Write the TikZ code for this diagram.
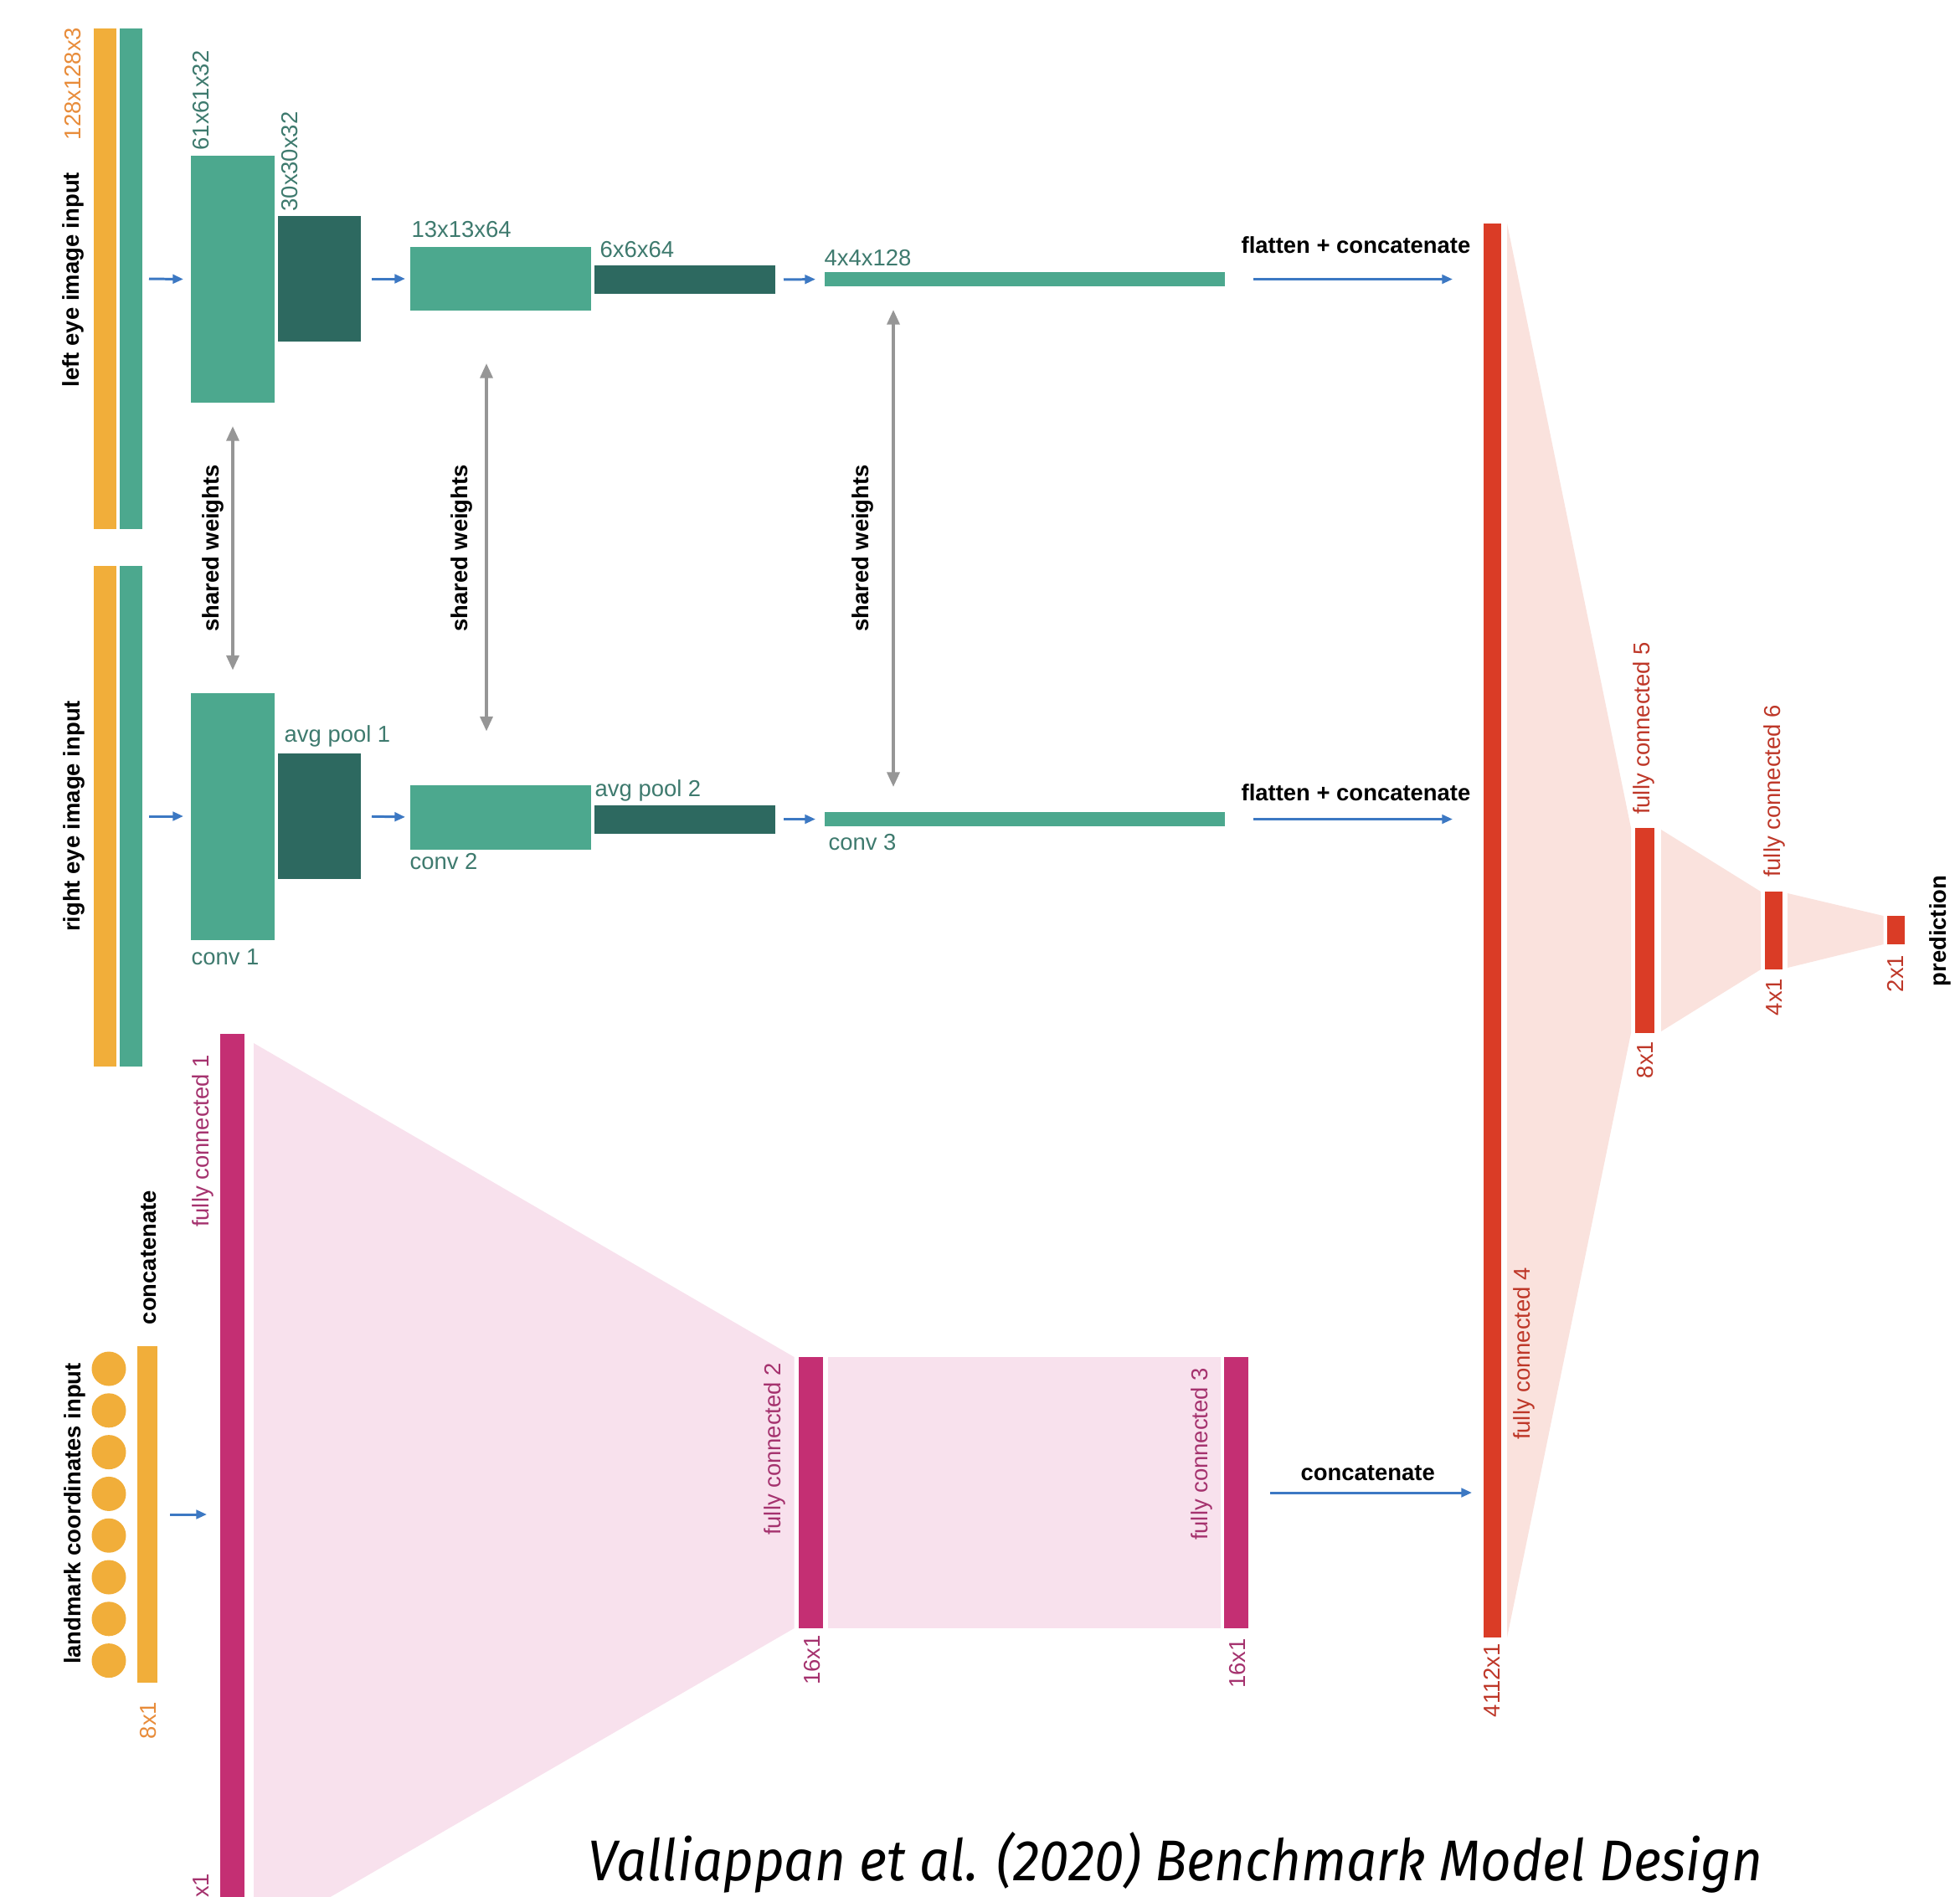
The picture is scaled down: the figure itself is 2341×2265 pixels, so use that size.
\documentclass[tikz,border=0pt]{standalone}
\usepackage{fontspec}
\usepackage{graphicx}
\setmainfont{Liberation Sans}
\newfontfamily\capfont{Fira Sans}
\usetikzlibrary{arrows.meta}

\newdimen\pxl
\pxl=0.01cm

\definecolor{inorange}{RGB}{241,174,58}
\definecolor{convteal}{RGB}{76,168,142}
\definecolor{poolteal}{RGB}{45,105,96}
\definecolor{tealtext}{RGB}{62,122,110}
\definecolor{orangetext}{RGB}{232,140,58}
\definecolor{fcmagenta}{RGB}{196,47,115}
\definecolor{fcpink}{RGB}{248,225,237}
\definecolor{magtext}{RGB}{165,50,110}
\definecolor{fcred}{RGB}{218,60,38}
\definecolor{fcsalmon}{RGB}{250,226,221}
\definecolor{redtext}{RGB}{190,55,40}
\definecolor{flowblue}{RGB}{60,120,195}
\definecolor{sharegrey}{RGB}{150,150,150}

\tikzset{
	lyr/.style={rectangle, inner sep=0pt, outer sep=0pt, draw=none},
	flow/.style={draw=flowblue, line width=0.85pt, -{Triangle[length=3.6pt,width=3pt]}},
	shared/.style={draw=sharegrey, line width=1.1pt, {Triangle[length=5pt,width=4.2pt]}-{Triangle[length=5pt,width=4.2pt]}},
	lbl/.style={inner sep=0pt, font=\fontsize{7.8}{9}\selectfont},
	vlbl/.style={lbl, rotate=90},
	blbl/.style={inner sep=0pt, font=\fontsize{7.8}{9}\selectfont\bfseries},
}

\begin{document}
\begin{tikzpicture}[x=0.01cm, y=-0.01cm]
	\useasboundingbox (0, 0) rectangle (2341, 2265);
	\clip (0, 0) rectangle (2341, 2265);
	\fill[white] (0, 0) rectangle (2341, 2265);

	% left eye branch
	\node[lyr, fill=inorange, minimum width=27\pxl, minimum height=598\pxl] (inLo) at (125.5, 333) {};
	\node[lyr, fill=convteal, minimum width=27\pxl, minimum height=598\pxl] (inLt) at (156.5, 333) {};
	\node[lyr, fill=convteal, minimum width=100\pxl, minimum height=295\pxl] (c1L) at (278, 333.5) {};
	\node[lyr, fill=poolteal, minimum width=99\pxl, minimum height=150\pxl] (p1L) at (381.5, 333) {};
	\node[lyr, fill=convteal, minimum width=216\pxl, minimum height=76\pxl] (c2L) at (598, 333) {};
	\node[lyr, fill=poolteal, minimum width=216\pxl, minimum height=34\pxl] (p2L) at (818, 334) {};
	\node[lyr, fill=convteal, minimum width=478\pxl, minimum height=17\pxl] (c3L) at (1224, 333.5) {};

	% right eye branch
	\node[lyr, fill=inorange, minimum width=27\pxl, minimum height=598\pxl] (inRo) at (125.5, 975) {};
	\node[lyr, fill=convteal, minimum width=27\pxl, minimum height=598\pxl] (inRt) at (156.5, 975) {};
	\node[lyr, fill=convteal, minimum width=100\pxl, minimum height=295\pxl] (c1R) at (278, 975) {};
	\node[lyr, fill=poolteal, minimum width=99\pxl, minimum height=150\pxl] (p1R) at (381.5, 975) {};
	\node[lyr, fill=convteal, minimum width=216\pxl, minimum height=77\pxl] (c2R) at (598, 976) {};
	\node[lyr, fill=poolteal, minimum width=216\pxl, minimum height=34\pxl] (p2R) at (818, 978.5) {};
	\node[lyr, fill=convteal, minimum width=478\pxl, minimum height=17\pxl] (c3R) at (1224, 978.5) {};

	% landmark branch
	\foreach \i in {1,...,8}
		\node[lyr, circle, fill=inorange, minimum size=41\pxl] (lm\i) at (130, {1635+(\i-1)*49.8}) {};
	\node[lyr, fill=inorange, minimum width=24\pxl, minimum height=402\pxl] (lmBar) at (176, 1809) {};
	\node[lyr, fill=fcmagenta, minimum width=29\pxl, minimum height=1095\pxl] (fc1) at (277.5, 1782.5) {};
	\node[lyr, fill=fcmagenta, minimum width=29\pxl, minimum height=324\pxl] (fc2) at (968, 1783) {};
	\node[lyr, fill=fcmagenta, minimum width=29\pxl, minimum height=324\pxl] (fc3) at (1476.5, 1783) {};

	% joint head
	\node[lyr, fill=fcred, minimum width=21\pxl, minimum height=1689\pxl] (fc4) at (1782.5, 1111.5) {};
	\node[lyr, fill=fcred, minimum width=23\pxl, minimum height=245\pxl] (fc5) at (1964.5, 1111.5) {};
	\node[lyr, fill=fcred, minimum width=21\pxl, minimum height=93\pxl] (fc6) at (2118.5, 1111.5) {};
	\node[lyr, fill=fcred, minimum width=21\pxl, minimum height=34\pxl] (pred) at (2264, 1111) {};

	% funnels
	\fill[fcpink] ([xshift=11\pxl, yshift=-11\pxl]fc1.north east) -- ([xshift=-5\pxl]fc2.north west)
		-- ([xshift=-5\pxl]fc2.south west) -- ([xshift=11\pxl, yshift=11\pxl]fc1.south east) -- cycle;
	\fill[fcpink] ([xshift=6\pxl]fc2.north east) rectangle ([xshift=-4\pxl]fc3.south west);
	\fill[fcsalmon] ([xshift=7\pxl]fc4.north east) -- ([xshift=-5\pxl]fc5.north west)
		-- ([xshift=-5\pxl]fc5.south west) -- ([xshift=7\pxl]fc4.south east) -- cycle;
	\fill[fcsalmon] ([xshift=8\pxl, yshift=-2\pxl]fc5.north east) -- ([xshift=-5\pxl]fc6.north west)
		-- ([xshift=-5\pxl]fc6.south west) -- ([xshift=8\pxl, yshift=2\pxl]fc5.south east) -- cycle;
	\fill[fcsalmon] ([xshift=6\pxl, yshift=-2\pxl]fc6.north east) -- ([xshift=-4\pxl]pred.north west)
		-- ([xshift=-4\pxl]pred.south west) -- ([xshift=6\pxl, yshift=2\pxl]fc6.south east) -- cycle;

	% data flow
	\draw[flow, shorten <=8\pxl, shorten >=9\pxl] (inLt.east) -- (c1L.west);
	\draw[flow, shorten <=13\pxl, shorten >=6\pxl] (p1L.east) -- (c2L.west);
	\draw[flow, shorten <=10\pxl, shorten >=11\pxl] (p2L.east) -- (c3L.west);
	\draw[flow, shorten <=34\pxl, shorten >=37\pxl] (c3L.east) -- (c3L.east -| fc4.west);
	\draw[flow, shorten <=8\pxl, shorten >=9\pxl] (inRt.east) -- (c1R.west);
	\draw[flow, shorten <=13\pxl, shorten >=6\pxl] (p1R.east) -- (c2R.west);
	\draw[flow, shorten <=10\pxl, shorten >=11\pxl] (p2R.east) -- (c3R.west);
	\draw[flow, shorten <=34\pxl, shorten >=37\pxl] (c3R.east) -- (c3R.east -| fc4.west);
	\draw[flow, shorten <=15\pxl, shorten >=16\pxl] (lmBar.east) -- (lmBar.east -| fc1.west);
	\draw[flow, shorten <=26\pxl, shorten >=14\pxl] (fc3.east) -- (fc3.east -| fc4.west);

	% shared weights
	\draw[shared] ([yshift=-28\pxl]c1L.south) -- ([yshift=27\pxl]c1R.north);
	\draw[shared] ([xshift=-17\pxl, yshift=-63\pxl]c2L.south) -- ([xshift=-17\pxl, yshift=64\pxl]c2R.north);
	\draw[shared] ([xshift=82\pxl, yshift=-28\pxl]c3L.south west) -- ([xshift=82\pxl, yshift=30\pxl]c3R.north west);

	% labels
	\node[vlbl, font=\fontsize{7.8}{9}\selectfont\bfseries] (tLeft) at (87, 334) {left eye image input};
	\node[vlbl, text=orangetext] (tInL) at (87, 100) {128x128x3};
	\node[vlbl, font=\fontsize{7.8}{9}\selectfont\bfseries] (tRight) at (88, 975) {right eye image input};
	\node[vlbl, text=tealtext] (tC1) at (240, 120) {61x61x32};
	\node[vlbl, text=tealtext] (tP1) at (346, 193) {30x30x32};
	\node[lbl, text=tealtext, anchor=base west] (tC2) at (491, 283) {13x13x64};
	\node[lbl, text=tealtext, anchor=base west] (tP2) at (716, 307) {6x6x64};
	\node[lbl, text=tealtext, anchor=base west] (tC3) at (984, 317) {4x4x128};
	\node[blbl, anchor=base west] (tFlatL) at (1482, 302) {flatten + concatenate};
	\node[blbl, anchor=base west] (tFlatR) at (1482, 956) {flatten + concatenate};
	\node[lbl, text=tealtext, anchor=base west] (tPool1) at (339, 886) {avg pool 1};
	\node[lbl, text=tealtext, anchor=base west] (tPool2) at (710, 951) {avg pool 2};
	\node[lbl, text=tealtext, anchor=base west] (tConv1) at (228, 1152) {conv 1};
	\node[lbl, text=tealtext, anchor=base west] (tConv2) at (489, 1038) {conv 2};
	\node[lbl, text=tealtext, anchor=base west] (tConv3) at (989, 1015) {conv 3};
	\node[vlbl, font=\fontsize{7.8}{9}\selectfont\bfseries] (tSh1) at (254, 655) {shared weights};
	\node[vlbl, font=\fontsize{7.8}{9}\selectfont\bfseries] (tSh2) at (551, 655) {shared weights};
	\node[vlbl, font=\fontsize{7.8}{9}\selectfont\bfseries] (tSh3) at (1030, 655) {shared weights};

	\node[vlbl, font=\fontsize{7.8}{9}\selectfont\bfseries] (tLand) at (89, 1808) {landmark coordinates input};
	\node[vlbl, font=\fontsize{7.8}{9}\selectfont\bfseries] (tCat) at (178, 1502) {concatenate};
	\node[vlbl, text=orangetext] (tLm) at (177, 2055) {8x1};
	\node[vlbl, text=magtext] (tFc1) at (242, 1363) {fully connected 1};
	\node[vlbl, text=magtext, anchor=east] (tFc1s) at (240, 2237) {128x1};
	\node[vlbl, text=magtext] (tFc2) at (925, 1731) {fully connected 2};
	\node[vlbl, text=magtext] (tFc2s) at (970, 1983) {16x1};
	\node[vlbl, text=magtext] (tFc3) at (1435, 1737) {fully connected 3};
	\node[vlbl, text=magtext] (tFc3s) at (1478, 1987) {16x1};
	\node[blbl, anchor=base west] (tCat2) at (1553, 1768) {concatenate};

	\node[vlbl, text=redtext] (tFc4) at (1820, 1617) {fully connected 4};
	\node[vlbl, text=redtext] (tFc4s) at (1782, 2007) {4112x1};
	\node[vlbl, text=redtext] (tFc5) at (1963, 870) {fully connected 5};
	\node[vlbl, text=redtext] (tFc5s) at (1965, 1266) {8x1};
	\node[vlbl, text=redtext] (tFc6) at (2119, 945) {fully connected 6};
	\node[vlbl, text=redtext] (tFc6s) at (2119, 1191) {4x1};
	\node[vlbl, text=redtext] (tPreds) at (2264, 1163) {2x1};
	\node[vlbl, font=\fontsize{7.8}{9}\selectfont\bfseries] (tPred) at (2317, 1112) {prediction};

	\node[inner sep=0pt, font=\capfont\itshape\fontsize{19.5}{23}\selectfont] (caption) at (1404, 2225)
		{\resizebox{1402\pxl}{\height}{Valliappan et al. (2020) Benchmark Model Design}};
\end{tikzpicture}
\end{document}
